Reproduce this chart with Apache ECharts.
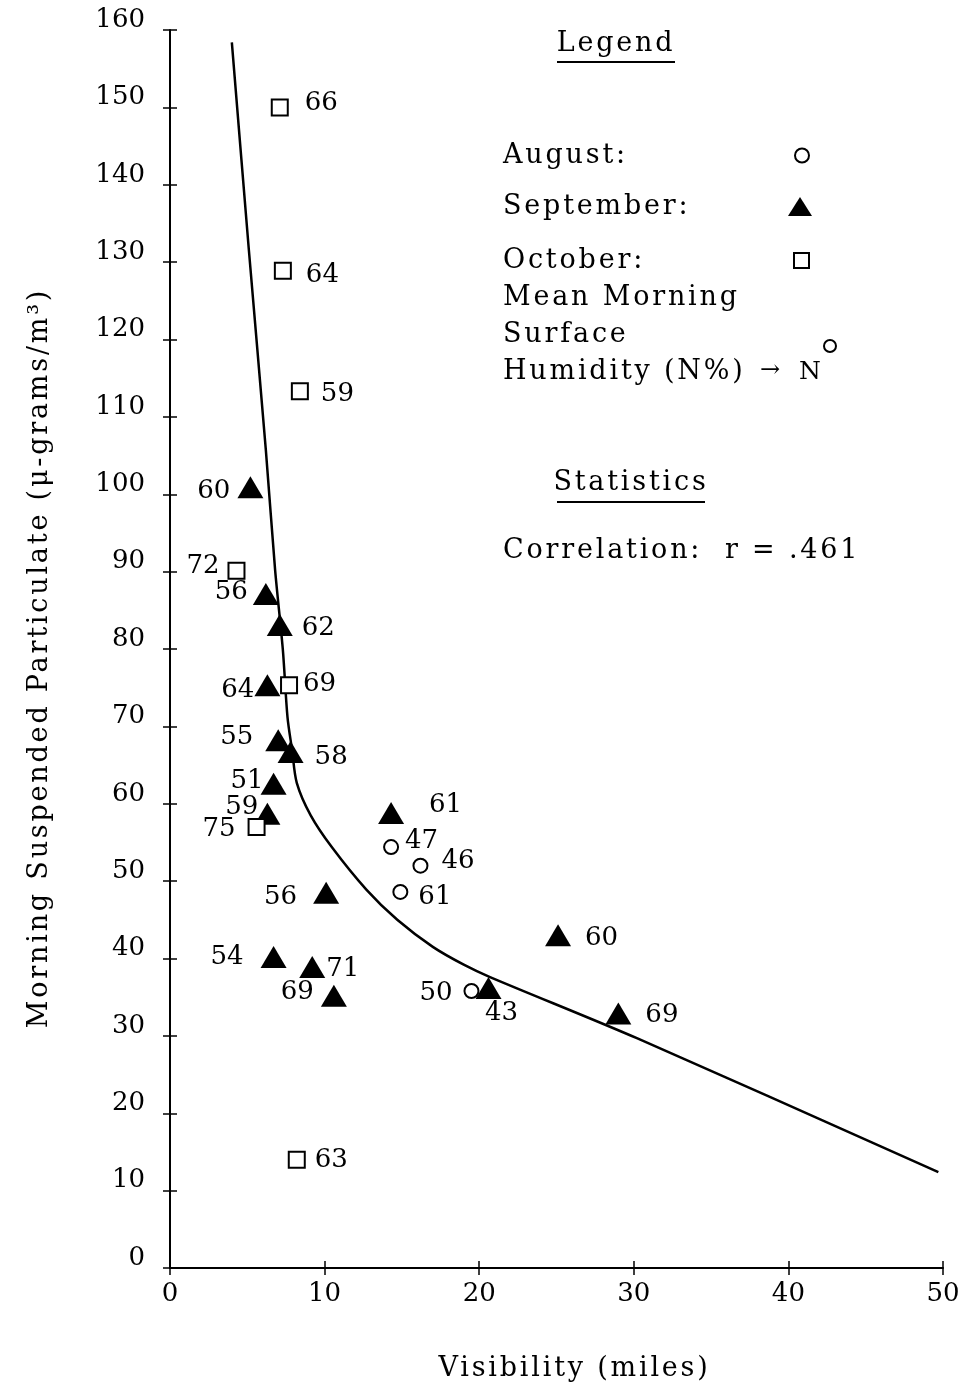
<!DOCTYPE html>
<html>
<head>
<meta charset="utf-8">
<script src="https://cdn.jsdelivr.net/npm/echarts@6/dist/echarts.min.js"></script>
<style>
html,body{margin:0;padding:0;background:#ffffff;}
#chart{width:967px;height:1389px;}
</style>
</head>
<body>
<div id="chart"></div>
<script>
// ---------------- data ----------------
const xMin = 0, xMax = 50, xStep = 10;
const yMin = 0, yMax = 160, yStep = 10;

// August (open circles): visibility, particulate, humidity %
const augustX = [14.3, 16.2, 14.9, 19.5];
const augustY = [54.4, 52.0, 48.6, 35.8];
const augustHumidity = [47, 46, 61, 50];

// September (filled triangles)
const septemberX = [5.2, 6.2, 7.1, 6.3, 7.0, 7.8, 6.7, 6.3, 14.3, 10.1, 6.7, 9.2, 10.6, 20.6, 25.1, 29.0];
const septemberY = [100.9, 87.1, 83.1, 75.3, 68.2, 66.7, 62.6, 58.7, 58.8, 48.5, 40.2, 38.9, 35.2, 36.2, 43.0, 32.9];
const septemberHumidity = [60, 56, 62, 64, 55, 58, 51, 59, 61, 56, 54, 71, 69, 43, 60, 69];

// October (open squares)
const octoberX = [7.1, 7.3, 8.4, 4.3, 7.7, 5.6, 8.2];
const octoberY = [150.0, 128.9, 113.3, 90.1, 75.3, 57.0, 14.0];
const octoberHumidity = [66, 64, 59, 72, 69, 75, 63];

// Fitted curve
const curveX = [4.0, 5.1, 6.2, 6.8, 7.3, 7.6, 7.9, 8.2, 9.1, 10.5, 12.7, 14.7, 17.0, 19.0, 20.7, 30.2, 49.7];
const curveY = [158.4, 131.6, 105.7, 90.2, 79.9, 71.2, 66.9, 62.7, 58.5, 54.3, 48.9, 45.0, 41.5, 39.2, 37.6, 29.7, 12.4];

const seriesNames = ['August', 'September', 'October'];
const xAxisTitle = 'Visibility (miles)';
const yAxisTitle = 'Morning Suspended Particulate (\u03bc-grams/m\u00b3)';
const correlationText = 'Correlation:  r = .461';

// ---------------- label placement (layout only) ----------------
// [side, dx, dy] relative to the marker
const augustLabelPlace = [['right', 6, -6], ['right', 13, -4], ['right', 10, 5], ['left', -11, 2]];
const septemberLabelPlace = [
  ['left', -7, 4], ['left', -5, -2], ['right', 9, 3], ['left', 0, 5], ['left', -12, -3],
  ['right', 11, 5], ['left', 3, -2], ['left', 4, -7], ['right', 25, -8], ['left', -16, 5],
  ['left', -17, 0], ['right', 1, 2], ['left', -7, -3], ['bottom', 13, 1], ['right', 14, 3], ['right', 14, 2]
];
const octoberLabelPlace = [['right', 16, -4], ['right', 14, 5], ['right', 12, 3], ['left', -8, -5], ['right', 5, -1], ['left', -12, 2], ['right', 9, 1]];

const FONT = 'DejaVu Serif';
const INK = '#000000';
const PROSE = 27;   // prose text size (typeset with wide letter spacing in the original)

(function () {
  const proto = window.CanvasRenderingContext2D && CanvasRenderingContext2D.prototype;
  if (!proto || !('letterSpacing' in proto)) return;
  const origFill = proto.fillText;
  proto.fillText = function (t, x, y, m) {
    const f = this.font || '';
    this.letterSpacing = /(^|\s)27px/.test(f) ? '2.8px' : '0px';
    return m === undefined ? origFill.call(this, t, x, y) : origFill.call(this, t, x, y, m);
  };
})();

function buildPoints(xs, ys, hums, place) {
  return xs.map(function (x, i) {
    const p = place[i];
    return {
      value: [x, ys[i], hums[i]],
      label: { position: p[0], distance: 0, offset: [p[1], p[2]] }
    };
  });
}

const pointLabel = {
  show: true,
  formatter: function (p) { return String(p.value[2]); },
  fontFamily: FONT,
  fontSize: 26,
  color: INK
};

const chart = echarts.init(document.getElementById('chart'), null, { renderer: 'canvas' });

function legendBox(name, top, icon, w, h, textW, style, keep) {
  return {
    data: [{ name: name, icon: icon, itemStyle: style }],
    orient: 'vertical',
    left: 503,
    top: top,
    padding: 0,
    align: 'right',
    itemWidth: w,
    itemHeight: h,
    symbolKeepAspect: keep,
    selectedMode: false,
    formatter: function (n) { return '{t|' + n + ':}'; },
    textStyle: {
      rich: { t: { width: textW, align: 'left', fontFamily: FONT, fontSize: PROSE, lineHeight: 30, color: INK } }
    }
  };
}

const proseStyle = { fontFamily: FONT, fontSize: PROSE, fill: INK, verticalAlign: 'middle' };
function label(text, x, y, align, extra) {
  return { type: 'text', x: x, y: y, style: Object.assign({ text: text, align: align }, proseStyle, extra || {}) };
}

const option = {
  backgroundColor: '#ffffff',
  animation: false,
  grid: { left: 170, right: 24, top: 30, bottom: 121, containLabel: false },
  xAxis: [{
    type: 'value', min: xMin, max: xMax, interval: xStep,
    name: xAxisTitle, nameLocation: 'middle', nameGap: 87,
    nameTextStyle: { fontFamily: FONT, fontSize: PROSE, color: INK, padding: [0, 0, 0, 36] },
    axisLine: { show: true, lineStyle: { color: INK, width: 2 } },
    axisTick: { show: true, inside: false, length: 7, lineStyle: { color: INK, width: 1.5 } },
    axisLabel: { fontFamily: FONT, fontSize: 26, color: INK, margin: 13 },
    splitLine: { show: false }
  }, {
    type: 'value', min: xMin, max: xMax, interval: xStep, position: 'bottom',
    axisLine: { show: false },
    axisTick: { show: true, inside: true, length: 7, lineStyle: { color: INK, width: 1.5 } },
    axisLabel: { show: false }, splitLine: { show: false }
  }],
  yAxis: [{
    type: 'value', min: yMin, max: yMax, interval: yStep,
    name: yAxisTitle, nameLocation: 'middle', nameGap: 117, nameRotate: 90,
    nameTextStyle: { fontFamily: FONT, fontSize: PROSE, color: INK, padding: [0, 18, 0, 0] },
    axisLine: { show: true, lineStyle: { color: INK, width: 2 } },
    axisTick: { show: true, inside: false, length: 7, lineStyle: { color: INK, width: 1.5 } },
    axisLabel: { fontFamily: FONT, fontSize: 26, color: INK, margin: 25, verticalAlign: 'bottom', lineHeight: 20 },
    splitLine: { show: false }
  }, {
    type: 'value', min: yMin, max: yMax, interval: yStep, position: 'left',
    axisLine: { show: false },
    axisTick: { show: true, inside: true, length: 7, lineStyle: { color: INK, width: 1.5 } },
    axisLabel: { show: false }, splitLine: { show: false }
  }],
  legend: [
    legendBox(seriesNames[0], 142, 'circle', 14, 14, 287, { color: '#fff', borderColor: INK, borderWidth: 2 }, true),
    legendBox(seriesNames[1], 193, 'triangle', 24, 19, 280, { color: INK, borderWidth: 0 }, false),
    legendBox(seriesNames[2], 247, 'rect', 15, 15, 286, { color: '#fff', borderColor: INK, borderWidth: 2 }, true)
  ],
  graphic: [
    label('Legend', 616, 44, 'center'),
    { type: 'line', shape: { x1: 557, y1: 62, x2: 675, y2: 62 }, style: { stroke: INK, lineWidth: 2 } },
    label('Mean Morning', 503, 298, 'left'),
    label('Surface', 503, 335, 'left'),
    label('Humidity (N%)', 503, 372, 'left'),
    label('\u2192', 770, 371, 'center', { fontSize: 24 }),
    label('N', 810, 372, 'center', { fontSize: 25 }),
    { type: 'circle', shape: { cx: 830, cy: 346, r: 6 }, style: { fill: 'none', stroke: INK, lineWidth: 2 } },
    label('Statistics', 631, 483, 'center'),
    { type: 'line', shape: { x1: 557, y1: 502, x2: 705, y2: 502 }, style: { stroke: INK, lineWidth: 2 } },
    label(correlationText, 503, 551, 'left')
  ],
  series: [
    {
      name: 'curve', type: 'line', data: curveX.map(function (x, i) { return [x, curveY[i]]; }),
      smooth: 0.3, showSymbol: false, symbol: 'none', silent: true, z: 1,
      lineStyle: { color: INK, width: 2.5 }
    },
    {
      name: seriesNames[0], type: 'scatter', symbol: 'circle', symbolSize: 14, z: 3,
      itemStyle: { color: '#fff', borderColor: INK, borderWidth: 2, opacity: 1 },
      label: pointLabel,
      data: buildPoints(augustX, augustY, augustHumidity, augustLabelPlace)
    },
    {
      name: seriesNames[1], type: 'scatter', symbol: 'triangle', symbolSize: [26, 22], z: 3,
      itemStyle: { color: INK, opacity: 1 },
      label: pointLabel,
      data: buildPoints(septemberX, septemberY, septemberHumidity, septemberLabelPlace)
    },
    {
      name: seriesNames[2], type: 'scatter', symbol: 'rect', symbolSize: 16, z: 3,
      itemStyle: { color: '#fff', borderColor: INK, borderWidth: 2, opacity: 1 },
      label: pointLabel,
      data: buildPoints(octoberX, octoberY, octoberHumidity, octoberLabelPlace)
    }
  ]
};
chart.setOption(option);
</script>
</body>
</html>
